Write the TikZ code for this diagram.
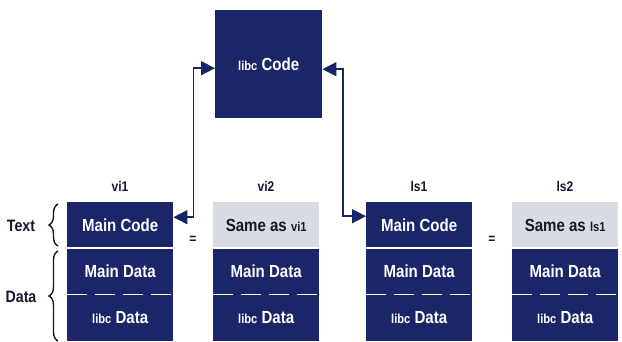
\documentclass[tikz,border=0pt]{standalone}
\usepackage{fontspec}
\setmainfont{Liberation Sans}[FakeStretch=0.86]
\usetikzlibrary{arrows.meta,decorations.pathreplacing}
\definecolor{navy}{RGB}{27,38,105}
\definecolor{pale}{RGB}{218,220,228}
\definecolor{ink}{RGB}{20,24,45}
\newcommand{\sm}[1]{{\fontsize{13}{14}\selectfont #1}}
\begin{document}
\begin{tikzpicture}[x=1pt,y=-1pt,
  cell/.style={fill=navy,text=white,font=\bfseries\fontsize{17.5}{18}\selectfont,
    minimum width=106,minimum height=46,inner sep=0,anchor=north west},
  same/.style={cell,fill=pale,text=ink},
  lab/.style={font=\bfseries\fontsize{14}{15}\selectfont,text=ink},
  side/.style={font=\bfseries\fontsize{16.5}{17}\selectfont,text=ink},
  conn/.style={draw=navy,line width=1.5pt,{Triangle[length=14pt,width=14pt]}-{Triangle[length=14pt,width=14pt]}},
  sep/.style={draw=white,line width=1.2pt},
  dsep/.style={draw=white,line width=1pt,dash pattern=on 20pt off 8pt},
  br/.style={draw=ink,line width=1.4pt,decorate,decoration={brace,amplitude=9}}
]
\useasboundingbox[fill=white] (0,0) rectangle (622,341);

% libc code box
\node[cell,minimum width=107,minimum height=108] (libc) at (215,10) {\sm{libc} Code};

% columns
\foreach \n/\x in {vi1/67,vi2/213,ls1/366,ls2/512}{
  \node[cell,minimum height=47] (ld-\n) at (\x,294) {\sm{libc} Data};
  \node[cell] (md-\n) at (\x,248) {Main Data};
}
\node[cell] (mc-vi1) at (67,202) {Main Code};
\node[same] (mc-vi2) at (213,202) {Same as \sm{vi1}};
\node[cell] (mc-ls1) at (366,202) {Main Code};
\node[same] (mc-ls2) at (512,202) {Same as \sm{ls1}};

\foreach \n in {vi1,vi2,ls1,ls2}{
  \draw[sep] (md-\n.north west) -- (md-\n.north east);
  \draw[dsep] (ld-\n.north west) -- (ld-\n.north east);
}

% column labels
\node[lab] (t-vi1) at (120,186) {vi1};
\node[lab] (t-vi2) at (266,186) {vi2};
\node[lab] (t-ls1) at (419,186) {ls1};
\node[lab] (t-ls2) at (565,186) {ls2};

% equals
\node[lab] (eq1) at (193,240) {=};
\node[lab] (eq2) at (492,240) {=};

% connectors
\draw[conn] ([yshift=8]mc-vi1.east) -- ++(20,0) |- ([yshift=-4]libc.west);
\draw[conn] ([yshift=9]mc-ls1.west) -- ++(-23,0) |- ([yshift=-5]libc.east);

% braces
\coordinate (tb1) at (58,246);
\coordinate (tb2) at (58,204);
\coordinate (db1) at (58,341);
\coordinate (db2) at (58,251);
\draw[br] (tb1) -- (tb2);
\draw[br] (db1) -- (db2);
\node[side] (txt) at (21,226) {Text};
\node[side] (dat) at (21,297) {Data};
\end{tikzpicture}
\end{document}
